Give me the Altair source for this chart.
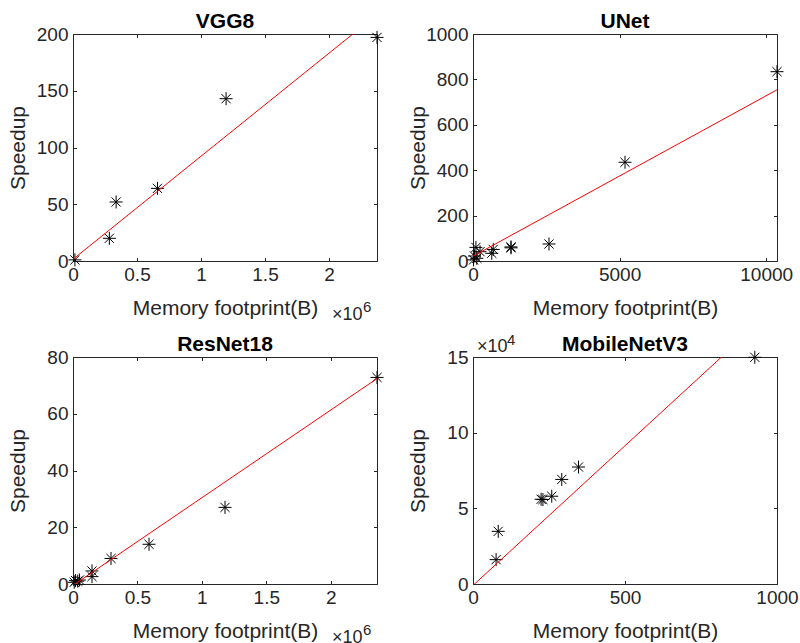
import altair as alt
import pandas as pd

# ---------------- data ----------------
names = ["VGG8", "UNet", "ResNet18", "MobileNetV3"]

vgg_mem = [1.5e4, 2.84e5, 3.37e5, 6.60e5, 1.196e6, 2.375e6]
vgg_speed = [1, 20, 52, 64, 143, 197]

unet_mem = [20, 50, 100, 130, 240, 640, 690, 1296, 1296, 2592, 5184, 10368]
unet_speed = [5, 22, 60, 12, 41, 34, 51, 58, 62, 75, 435, 834]

res_mem = [9408, 20000, 36864, 50000, 147456, 147456, 294912, 589824, 1179648, 2359296]
res_speed = [0.6, 1.2, 1.0, 1.4, 2.6, 4.6, 9.0, 14.0, 27.0, 72.8]

mob_mem = [76, 83, 224, 230, 259, 292, 347, 927]
mob_speed = [16100, 34800, 56000, 55800, 58000, 69100, 77300, 149800]

# red fitted lines: slope and intercept
fit_slope = [9.08e-5, 0.0707, 3.09e-5, 184.6]
fit_intercept = [1.5, 21.0, -0.5, -920.0]

x_max = [2.375e6, 10368, 2359296, 1000]
y_max = [200, 1000, 80, 150000]
x_ticks = [[0, 5e5, 1e6, 1.5e6, 2e6], [0, 5000, 10000], [0, 5e5, 1e6, 1.5e6, 2e6], [0, 500, 1000]]
y_ticks = [[0, 50, 100, 150, 200], [0, 200, 400, 600, 800, 1000], [0, 20, 40, 60, 80], [0, 50000, 100000, 150000]]
x_div = [1e6, 1, 1e6, 1]
y_div = [1, 1, 1, 1e4]
x_exp = ["6", "", "6", ""]
y_exp = ["", "", "", "4"]

mems = [vgg_mem, unet_mem, res_mem, mob_mem]
speeds = [vgg_speed, unet_speed, res_speed, mob_speed]

# ---------------- styling ----------------
W, H = 304, 227
FONT = "Liberation Sans"
AX = "#262626"
STAR = ("M-1,0L1,0M0,-1L0,1M-0.7071,-0.7071L0.7071,0.7071"
        "M-0.7071,0.7071L0.7071,-0.7071")
TICK = 3.5


def text_layer(txt, x, y, size, align="left", weight="normal", color=AX):
    return alt.Chart(pd.DataFrame({"t": [txt]})).mark_text(
        align=align, baseline="alphabetic", font=FONT, fontSize=size,
        fontWeight=weight, color=color
    ).encode(text="t:N", x=alt.value(x), y=alt.value(y))


def panel(i):
    pts = pd.DataFrame({"mem": mems[i], "speed": speeds[i]})
    xe = [0, x_max[i]]
    line = pd.DataFrame({"mem": xe,
                         "speed": [fit_intercept[i] + fit_slope[i] * v for v in xe]})
    xs = alt.Scale(domain=[0, x_max[i]], nice=False, zero=True)
    ys = alt.Scale(domain=[0, y_max[i]], nice=False, zero=True)

    bottom = alt.Axis(orient="bottom", values=x_ticks[i],
                      labelExpr=f"format(datum.value / {x_div[i]}, '~g')",
                      title="Memory footprint(B)", titleX=W / 2, titleY=57,
                      titleBaseline="alphabetic", labelPadding=4)
    left = alt.Axis(orient="left", values=y_ticks[i],
                    labelExpr=f"format(datum.value / {y_div[i]}, '~g')",
                    title="Speedup", titleX=-51.6, titleY=H / 2,
                    titleBaseline="alphabetic", labelPadding=5)
    top = alt.Axis(orient="top", values=x_ticks[i], labels=False, title=None,
                   minExtent=0, maxExtent=0)
    right = alt.Axis(orient="right", values=y_ticks[i], labels=False, title=None,
                     minExtent=0, maxExtent=0)

    p = alt.Chart(pts).mark_point(
        shape=STAR, size=169, filled=False, color="black", strokeWidth=1, opacity=1
    ).encode(x=alt.X("mem:Q", scale=xs, axis=bottom),
             y=alt.Y("speed:Q", scale=ys, axis=left))
    l = alt.Chart(line).mark_line(color="red", strokeWidth=1, clip=True).encode(
        x=alt.X("mem:Q", scale=xs, axis=top),
        y=alt.Y("speed:Q", scale=ys, axis=right))

    layers = [p, l, text_layer(names[i], W / 2, -6, 21, align="center",
                               weight="bold", color="black")]
    if x_exp[i]:
        layers.append(text_layer("×10", W - 45, H + 59, 18))
        layers.append(text_layer(x_exp[i], W - 14, H + 51, 15))
    if y_exp[i]:
        layers.append(text_layer("×10", 4, -5, 18))
        layers.append(text_layer(y_exp[i], 34, -12, 15))

    return alt.layer(*layers).resolve_axis(x="independent", y="independent").properties(
        width=W, height=H)


chart = alt.concat(*[panel(i) for i in range(4)], columns=2, spacing=96,
                   bounds="flush").properties(
    padding={"left": 7, "top": 10, "right": 0, "bottom": 0},
    background="white",
).configure_view(stroke=AX, strokeWidth=1).configure_axis(
    domain=False, grid=False, offset=-TICK, tickSize=TICK, tickColor=AX, tickWidth=1,
    labelFlush=False, labelOverlap=False,
    labelFont=FONT, labelFontSize=19, labelColor=AX,
    titleFont=FONT, titleFontSize=21, titleFontWeight="normal", titleColor=AX,
)

chart.save("out.html", embed_options={"renderer": "svg", "actions": False})
